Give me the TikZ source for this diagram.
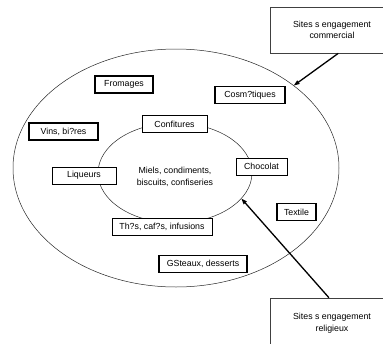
\documentclass[tikz,border=0pt]{standalone}
\usepackage{fontspec}
\setmainfont{Liberation Sans}
\usetikzlibrary{arrows.meta,shapes.geometric}

\begin{document}
\begin{tikzpicture}[
x=1pt,y=-1pt,
>={Triangle[length=6pt,width=4pt]},
every node/.style={font=\fontsize{8.8}{11.5}\selectfont},
zone/.style={ellipse,draw=black!85,line width=0.5pt,inner sep=0pt,outer sep=0pt},
thinbox/.style={rectangle,draw,fill=white,line width=0.7pt,inner sep=0pt,minimum height=17pt},
thickbox/.style={rectangle,draw,fill=white,line width=1.5pt,inner sep=0pt,minimum height=17pt},
site/.style={rectangle,draw=black!75,line width=0.7pt,align=center,inner sep=0pt,minimum width=124pt,minimum height=46pt}
]
\useasboundingbox (0,0) rectangle (383,343);

% Zones
\node[zone,minimum width=326pt,minimum height=238pt] (outer) at (176,168) {};
\node[zone,minimum width=154pt,minimum height=100pt] (inner) at (175,173) {};

% Centre
\node[align=center] (miels) at (175,177) {Miels, condiments,\\biscuits, confiseries};

% Inner ring
\node[thinbox,minimum width=65pt] (confitures) at (174.5,124) {Confitures};
\node[thinbox,minimum width=64pt] (liqueurs) at (84,175.5) {Liqueurs};
\node[thinbox,minimum width=51pt] (chocolat) at (261.5,166.5) {Chocolat};
\node[thinbox,minimum width=100pt] (thes) at (162,226.5) {Th?s, caf?s, infusions};

% Outer ring
\node[thickbox,minimum width=58pt] (fromages) at (124,84.5) {Fromages};
\node[thickbox,minimum width=70pt] (cosmetiques) at (250,95) {Cosm?tiques};
\node[thickbox,minimum width=69pt] (vins) at (63.5,131.5) {Vins, bi?res};
\node[thickbox,minimum width=39pt] (textile) at (296.5,212) {Textile};
\node[thickbox,minimum width=88pt] (gateaux) at (203,264) {GSteaux, desserts};

% Sites
\node[site] (commercial) at (332,30) {Sites s engagement\\commercial};
\node[site,minimum height=50pt] (religieux) at (332,323) {Sites s engagement\\religieux};

% Arrows
\draw[->,line width=1.3pt] (commercial.285) -- (outer.35.5);
\draw[->,line width=1.3pt] (religieux.97) -- (inner.339);

\end{tikzpicture}
\end{document}
